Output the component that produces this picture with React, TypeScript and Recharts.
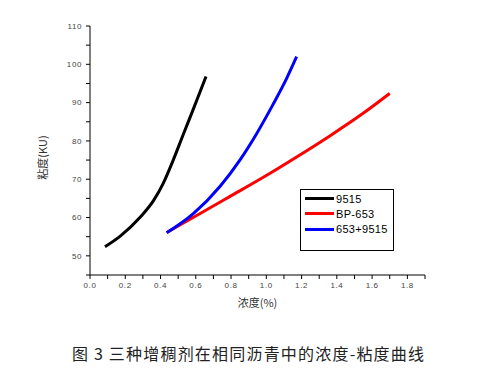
import React from 'react';
import { LineChart, Line, XAxis, YAxis } from 'recharts';

const blackX = [0.085, 0.17, 0.283, 0.36, 0.416, 0.472, 0.53, 0.586, 0.658];
const blackY = [52.4, 55.1, 60.0, 64.4, 69.0, 75.0, 81.8, 88.3, 96.8];
const redX = [0.435, 0.6, 0.79, 0.983, 1.172, 1.36, 1.549, 1.7];
const redY = [56.1, 60.4, 65.4, 70.5, 75.8, 81.3, 87.2, 92.4];
const blueX = [0.435, 0.586, 0.737, 0.85, 0.945, 1.039, 1.114, 1.172];
const blueY = [56.0, 61.0, 68.1, 75.0, 81.9, 89.6, 96.2, 102.0];

const seriesNames = ['9515', 'BP-653', '653+9515'];
const seriesColors = ['#000000', '#ff0000', '#0000ff'];

const xTicks = [0, 0.1, 0.2, 0.3, 0.4, 0.5, 0.6, 0.7, 0.8, 0.9, 1.0, 1.1, 1.2, 1.3, 1.4, 1.5, 1.6, 1.7, 1.8, 1.9];
const xMajor = [0, 0.2, 0.4, 0.6, 0.8, 1.0, 1.2, 1.4, 1.6, 1.8];
const yTicks = [45, 50, 55, 60, 65, 70, 75, 80, 85, 90, 95, 100, 105, 110];
const yMajor = [50, 60, 70, 80, 90, 100, 110];

const xLabel = '浓度(%)';
const yLabel = '粘度(KU)';
const caption = '图 3 三种增稠剂在相同沥青中的浓度-粘度曲线';

const zip = (xs: number[], ys: number[]) => xs.map((x, i) => ({ x, y: ys[i] }));
const seriesData = [zip(blackX, blackY), zip(redX, redY), zip(blueX, blueY)];

const tickStyle = { fontSize: 8, fill: '#444', fontFamily: 'Liberation Sans, Arial, sans-serif', letterSpacing: 0.6 };

const isMajor = (v: number, list: number[]) => list.some((m) => Math.abs(m - v) < 1e-6);

const LegendBox = () => (
  <div
    style={{
      position: 'absolute',
      left: 300,
      top: 189,
      boxSizing: 'border-box',
      width: 94,
      height: 62,
      border: '1px solid #000',
      background: '#fff',
      paddingTop: 1,
      paddingLeft: 4,
      fontFamily: 'Liberation Sans, Arial, sans-serif',
      fontSize: 11,
      color: '#000',
    }}
  >
    {seriesNames.map((name, i) => (
      <div key={i} style={{ display: 'flex', alignItems: 'center', height: 15.3 }}>
        <div style={{ width: 29, height: 3, background: seriesColors[i], marginRight: 2 }} />
        <span style={{ letterSpacing: 0.3 }}>{name}</span>
      </div>
    ))}
  </div>
);

export default function App() {
  return (
    <div style={{ position: 'absolute', left: 0, top: 0, width: 480, height: 385, background: '#fff' }}>
      <LineChart width={480} height={330} margin={{ top: 26, right: 55, left: 0, bottom: 25 }}>
        <XAxis
          type="number"
          dataKey="x"
          domain={[0, 1.9]}
          ticks={xTicks}
          interval={0}
          tickFormatter={(v: number) => (isMajor(v, xMajor) ? v.toFixed(1) : '')}
          tick={tickStyle}
          tickSize={4}
          tickMargin={3}
          height={30}
          stroke="#000"
          allowDataOverflow
          label={{
            content: (p: any) => {
              const vb = p.viewBox;
              return (
                <text
                  x={vb.x + vb.width / 2}
                  y={302}
                  textAnchor="middle"
                  dominantBaseline="central"
                  fontSize={11}
                  fill="#333"
                  fontFamily="Noto Sans CJK SC, sans-serif"
                >
                  {xLabel}
                </text>
              );
            },
          }}
        />
        <YAxis
          type="number"
          domain={[45, 110]}
          ticks={yTicks}
          interval={0}
          tickFormatter={(v: number) => (isMajor(v, yMajor) ? String(v) : '')}
          tick={tickStyle}
          tickSize={4}
          tickMargin={4}
          width={90}
          stroke="#000"
          allowDataOverflow
          label={{
            content: (p: any) => {
              const vb = p.viewBox;
              const cx = 42;
              const cy = vb.y + vb.height / 2 + 7;
              return (
                <text
                  x={cx}
                  y={cy}
                  transform={`rotate(-90, ${cx}, ${cy})`}
                  textAnchor="middle"
                  dominantBaseline="central"
                  fontSize={11}
                  fill="#333"
                  fontFamily="Noto Sans CJK SC, sans-serif"
                >
                  {yLabel}
                </text>
              );
            },
          }}
        />
        {seriesData.map((d, i) => (
          <Line
            key={i}
            data={d}
            dataKey="y"
            name={seriesNames[i]}
            stroke={seriesColors[i]}
            strokeWidth={3}
            dot={false}
            type="monotone"
            isAnimationActive={false}
          />
        ))}
      </LineChart>
      <LegendBox />
      <div
        style={{
          position: 'absolute',
          left: 72,
          top: 343,
          fontSize: 16,
          lineHeight: '20px',
          letterSpacing: 1.2,
          color: '#222',
          fontFamily: 'Noto Sans CJK SC, sans-serif',
          whiteSpace: 'nowrap',
        }}
      >
        {caption}
      </div>
    </div>
  );
}
